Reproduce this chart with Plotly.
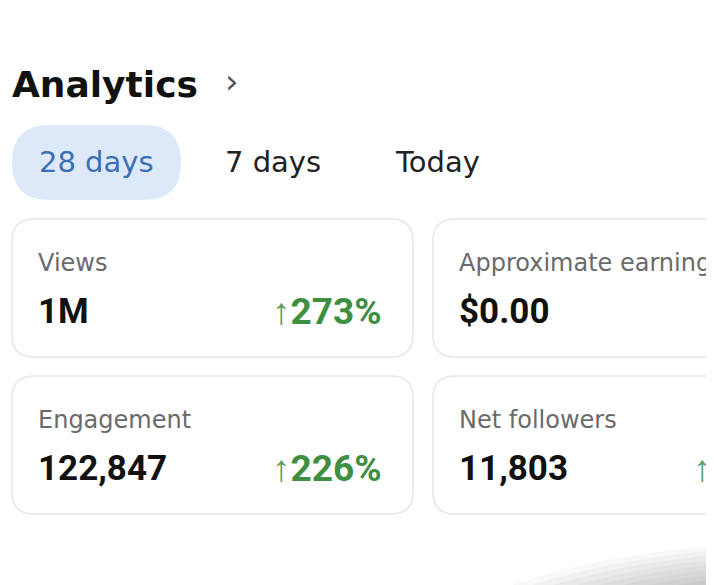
import plotly.graph_objects as go

# page content
title = 'Analytics'
periods = ['28 days', '7 days', 'Today']
period_x = [96, 273, 437]      # centres of the tab labels
selected = 0

metrics = ['Views', 'Approximate earnings', 'Engagement', 'Net followers']
values = ['1M', '$0.00', '122,847', '11,803']
changes = ['273%', None, '226%', '']   # '' = only the arrow is visible

# the page body has an 8px margin, so the figure starts at (8, 8)
OFF = 8
W, H = 714 - OFF, 585 - OFF
LABEL_FONT = 'DejaVu Sans'
VALUE_FONT = 'Roboto'
GREEN = '#3f8f43'


def rounded(x0, y0, x1, y1, r):
    return (f'M {x0+r},{y0} L {x1-r},{y0} Q {x1},{y0} {x1},{y0+r} '
            f'L {x1},{y1-r} Q {x1},{y1} {x1-r},{y1} L {x0+r},{y1} '
            f'Q {x0},{y1} {x0},{y1-r} L {x0},{y0+r} Q {x0},{y0} {x0+r},{y0} Z')


fig = go.Figure()
shapes = []
annotations = []

# soft shadow in the bottom right corner
for i in range(20):
    rx = 420 - i * 16
    ry = 120 - i * 4.5
    shapes.append(dict(type='circle', xref='x', yref='y',
                       x0=840 - rx, x1=840 + rx, y0=660 - ry, y1=660 + ry,
                       fillcolor='rgba(70,70,70,0.035)', line=dict(width=0),
                       layer='below'))

# header
annotations.append(dict(x=10, y=84, text='<b>' + title + '</b>', xanchor='left',
                        font=dict(size=36, color='#111111', family=LABEL_FONT)))
annotations.append(dict(x=232, y=81, text='›', xanchor='center',
                        font=dict(size=34, color='#555555', family=LABEL_FONT)))

# period tabs
shapes.append(dict(type='path', xref='x', yref='y',
                   path=rounded(12, 125, 181, 200, 37),
                   fillcolor='#dde9f8', line=dict(width=0)))
for i, p in enumerate(periods):
    annotations.append(dict(x=period_x[i], y=162, text=p, xanchor='center',
                            font=dict(size=29, family=LABEL_FONT,
                                      color='#3a6fb3' if i == selected else '#222222')))

# metric cards
card_w, card_h = 401, 138
for i, m in enumerate(metrics):
    col, row = i % 2, i // 2
    x0 = 12 + col * 421
    y0 = 219 + row * 157
    shapes.append(dict(type='path', xref='x', yref='y',
                       path=rounded(x0, y0, x0 + card_w, y0 + card_h, 22),
                       fillcolor='white', line=dict(color='#e6e6e6', width=1.5)))
    annotations.append(dict(x=x0 + 24, y=y0 + 44, text=m, xanchor='left',
                            font=dict(size=24, color='#6a6a6a', family=LABEL_FONT)))
    annotations.append(dict(x=x0 + 24, y=y0 + 92, text='<b>' + values[i] + '</b>',
                            xanchor='left',
                            font=dict(size=35, color='#111111', family=VALUE_FONT)))
    if changes[i] is not None:
        annotations.append(dict(x=x0 + 258, y=y0 + 92,
                                text='<span style="color:#5c9c5f">↑</span><b>' + changes[i] + '</b>',
                                xanchor='left',
                                font=dict(size=37, color=GREEN, family=VALUE_FONT)))

for a in annotations:
    a.update(xref='x', yref='y', yanchor='middle', showarrow=False)

fig.update_layout(
    width=W, height=H,
    margin=dict(l=0, r=0, t=0, b=0),
    paper_bgcolor='white', plot_bgcolor='white',
    xaxis=dict(range=[OFF, OFF + W], visible=False, fixedrange=True),
    yaxis=dict(range=[OFF + H, OFF], visible=False, fixedrange=True),
    shapes=shapes, annotations=annotations,
    showlegend=False,
)

fig.write_html('out.html')
